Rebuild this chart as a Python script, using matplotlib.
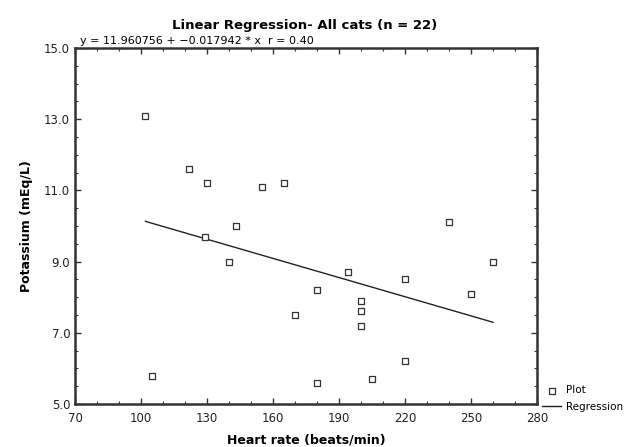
import numpy as np
import matplotlib
matplotlib.use("Agg")
import matplotlib.pyplot as plt
from matplotlib.ticker import FormatStrFormatter

# heart rate (beats/min) and potassium (mEq/L)
heart_rate = [102, 122, 130, 129, 140, 143, 155, 165, 170, 180, 180,
              105, 194, 200, 200, 200, 205, 220, 220, 240, 250, 260]
potassium = [13.1, 11.6, 11.2, 9.7, 9.0, 10.0, 11.1, 11.2, 7.5, 8.2, 5.6,
             5.8, 8.7, 7.9, 7.6, 7.2, 5.7, 8.5, 6.2, 10.1, 8.1, 9.0]
intercept = 11.960756
slope = -0.017942
r_value = 0.40

plt.rcParams['font.family'] = ['DejaVu Sans']

fig = plt.figure(figsize=(6.39, 4.47), dpi=100)
ax = fig.add_axes([0.1174, 0.0962, 0.7230, 0.7964])

ax.scatter(heart_rate, potassium, marker='s', s=13, facecolors='white',
           edgecolors='#333333', linewidths=0.9, label='Plot', zorder=3)
xs = np.array([min(heart_rate), max(heart_rate)])
ax.plot(xs, intercept + slope * xs, color='#222222', lw=1.0, label='Regression')

ax.set_xlim(70, 280)
ax.set_ylim(5.0, 15.0)
ax.set_xticks(np.arange(70, 281, 30))
ax.set_xticks(np.arange(70, 281, 10), minor=True)
ax.set_yticks(np.arange(5, 15.1, 2))
ax.set_yticks(np.arange(5, 15.1, 0.5), minor=True)
ax.yaxis.set_major_formatter(FormatStrFormatter('%.1f'))
ax.tick_params(which='both', direction='in', top=True, right=True, labelsize=8.5,
               color='#333333', labelcolor='#222222')
ax.tick_params(which='major', length=4, width=1)
ax.tick_params(axis='x', which='major', pad=6)
ax.tick_params(which='minor', length=2.5, width=0.8)
for sp in ax.spines.values():
    sp.set_linewidth(1.8)
    sp.set_color('#333333')

ax.set_xlabel('Heart rate (beats/min)', fontsize=9, fontweight='bold', labelpad=6)
ax.set_ylabel('Potassium (mEq/L)', fontsize=9, fontweight='bold', labelpad=8)
fig.text(0.476, 0.942, 'Linear Regression- All cats (n = 22)', ha='center',
         va='center', fontsize=9.5, fontweight='bold')
ax.text(0.01, 1.005, 'y = %.6f + \u2212%.6f * x  r = %.2f' % (intercept, -slope, r_value),
        transform=ax.transAxes, ha='left', va='bottom', fontsize=8)

fig.legend(loc='lower left', bbox_to_anchor=(0.842, 0.07), frameon=False,
           fontsize=7.5, handlelength=1.8, handletextpad=0.5, labelspacing=0.6,
           borderaxespad=0)

fig.savefig('out.png', dpi=100)
